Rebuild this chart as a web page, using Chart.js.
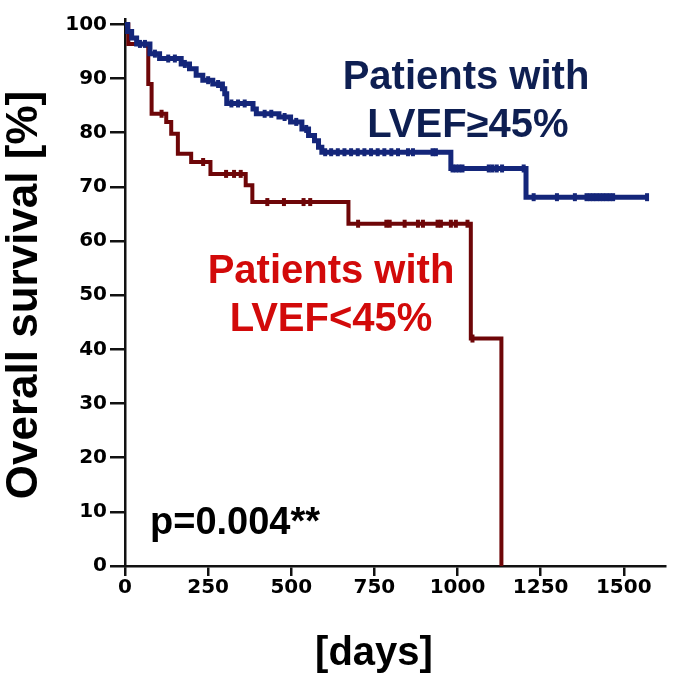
<!DOCTYPE html>
<html>
<head>
<meta charset="utf-8">
<script src="https://cdn.jsdelivr.net/npm/chart.js@4/dist/chart.umd.min.js"></script>
<style>
  html, body { margin: 0; padding: 0; background: #ffffff; }
  #wrap { width: 673px; height: 677px; position: relative; }
</style>
</head>
<body>
<div id="wrap"><canvas id="c" width="673" height="677"></canvas></div>
<script>
// Kaplan-Meier step data: [days, overall survival %]
const highDays   = [0, 8, 20, 35, 75, 104, 169, 194, 214, 234, 264, 293, 300, 306, 385, 395, 463, 498, 532, 552, 570, 582, 592, 980, 1206, 1570];
const highSurv   = [100, 98.7, 97.5, 96.4, 94.6, 93.7, 92.7, 91.8, 90.6, 89.7, 89.0, 88.1, 87.2, 85.4, 84.4, 83.5, 82.9, 82.0, 80.7, 79.5, 78.5, 77.3, 76.4, 73.4, 68.1, 68.1];
const lowDays    = [0, 10, 70, 80, 124, 139, 159, 199, 257, 363, 383, 672, 1040, 1132];
const lowSurv    = [100, 96.4, 89.0, 83.5, 82.0, 79.8, 76.1, 74.6, 72.4, 70.3, 67.2, 63.2, 42.0, 0];
// censoring marks (days)
const highCensor = [45, 60, 90, 130, 150, 180, 250, 280, 320, 340, 360, 420, 440, 480, 515, 545,
                    602, 620, 640, 660, 680, 700, 720, 740, 760, 780, 801, 821, 851, 866, 925, 935,
                    985, 995, 1005, 1015, 1094, 1105, 1118, 1134, 1199,
                    1229, 1299, 1353, 1388, 1398, 1408, 1418, 1428, 1438, 1448, 1458, 1468, 1570];
const lowCensor  = [110, 235, 304, 328, 348, 428, 478, 537, 557, 701, 786, 796, 841, 881, 896, 940, 950, 980, 995, 1030, 1045];
// axis ticks
const yTicks = [0, 10, 20, 30, 40, 50, 60, 70, 80, 90, 100];
const xTicks = [0, 250, 500, 750, 1000, 1250, 1500];

const xy = (xs, ys) => xs.map((x, i) => ({ x: x, y: ys[i] }));
function levelAt(xs, ys, t) {
  let v = ys[0];
  for (let i = 0; i < xs.length; i++) { if (xs[i] <= t) v = ys[i]; }
  return v;
}
const censorPts = (cs, xs, ys) => cs.map(t => ({ x: t, y: levelAt(xs, ys, t) }));

const BLUE = '#14267a';
const DRED = '#6e0608';
const FONT = '"Liberation Sans", Arial, Helvetica, sans-serif';
const TICKFONT = '"DejaVu Sans", "Liberation Sans", sans-serif';

const textPlugin = {
  id: 'texts',
  afterDraw(chart) {
    const ctx = chart.ctx;
    ctx.save();
    ctx.textBaseline = 'alphabetic';
    // blue label
    ctx.fillStyle = '#0e1f52';
    ctx.font = 'bold 40px ' + FONT;
    ctx.textAlign = 'center';
    ctx.fillText('Patients with', 466, 89);
    ctx.fillText('LVEF\u226545%', 468, 137);
    // red label
    ctx.fillStyle = '#d20a0a';
    ctx.fillText('Patients with', 331, 283);
    ctx.fillText('LVEF<45%', 331, 331);
    // p value
    ctx.fillStyle = '#000';
    ctx.font = 'bold 38px ' + FONT;
    ctx.textAlign = 'left';
    ctx.fillText('p=0.004**', 150, 534);
    // x title
    ctx.font = 'bold 40px ' + FONT;
    ctx.textAlign = 'center';
    ctx.textBaseline = 'middle';
    ctx.fillText('[days]', 374, 654);
    // y title
    ctx.translate(25, 295);
    ctx.rotate(-Math.PI / 2);
    ctx.font = 'bold 44px ' + FONT;
    ctx.fillText('Overall survival [%]', 0, 0);
    ctx.restore();
  }
};

new Chart(document.getElementById('c'), {
  type: 'line',
  data: {
    datasets: [
      { data: xy(highDays, highSurv), borderColor: BLUE, borderWidth: 5, stepped: 'before', pointRadius: 0, fill: false, borderJoinStyle: 'miter' },
      { data: xy(lowDays, lowSurv), borderColor: DRED, borderWidth: 4, stepped: 'before', pointRadius: 0, fill: false, borderJoinStyle: 'miter' },
      { data: censorPts(highCensor, highDays, highSurv), showLine: false, pointStyle: 'line', rotation: 90, pointRadius: 4, borderWidth: 4, borderColor: BLUE, backgroundColor: BLUE },
      { data: censorPts(lowCensor, lowDays, lowSurv), showLine: false, pointStyle: 'line', rotation: 90, pointRadius: 4, borderWidth: 4, borderColor: DRED, backgroundColor: DRED }
    ]
  },
  options: {
    responsive: false,
    animation: false,
    events: [],
    layout: { padding: { left: 0, right: 4, top: 19, bottom: 0 } },
    plugins: { legend: { display: false }, tooltip: { enabled: false } },
    scales: {
      x: {
        type: 'linear', min: 0, max: 1624,
        afterBuildTicks: s => { s.ticks = xTicks.map(v => ({ value: v })); },
        afterFit: s => { s.height = 111; },
        border: { display: true, color: '#111', width: 2.5 },
        grid: { display: true, drawOnChartArea: false, drawTicks: true, tickLength: 10, color: '#111', lineWidth: 2.5 },
        ticks: { color: '#000', font: { family: TICKFONT, weight: 'bold', size: 20 }, padding: 0, maxRotation: 0, autoSkip: false, callback: v => String(v) }
      },
      y: {
        type: 'linear', min: 0, max: 101,
        afterBuildTicks: s => { s.ticks = yTicks.map(v => ({ value: v })); },
        afterFit: s => { s.width = 125; },
        border: { display: true, color: '#111', width: 2.5 },
        grid: { display: true, drawOnChartArea: false, drawTicks: true, tickLength: 15, color: '#111', lineWidth: 2.5 },
        ticks: { color: '#000', font: { family: TICKFONT, weight: 'bold', size: 20 }, padding: 3, autoSkip: false, callback: v => String(v) }
      }
    }
  },
  plugins: [textPlugin]
});
</script>
</body>
</html>
